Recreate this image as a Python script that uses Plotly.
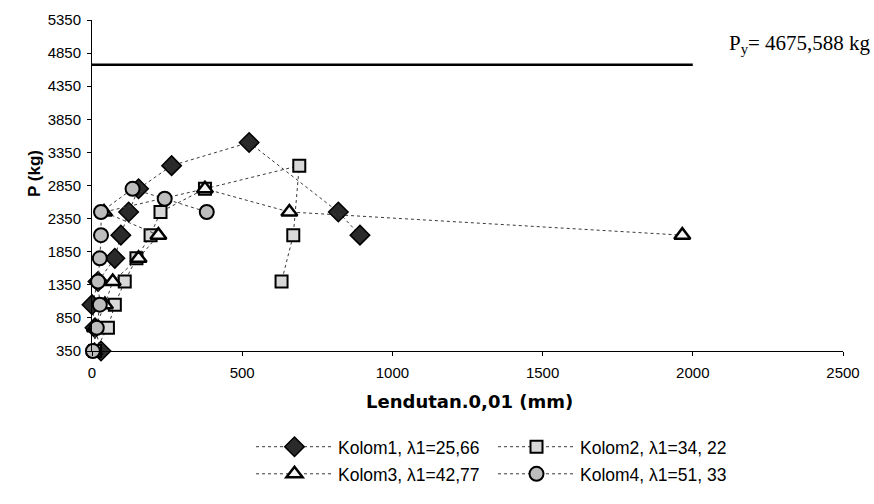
import plotly.graph_objects as go

# Load-deflection readings per column specimen (deflection in 0.01 mm, load in kg)
kolom1_x = [30, 10, 0, 20, 76, 96, 122, 155, 265, 523, 820, 892]
kolom1_y = [350, 700, 1050, 1400, 1750, 2100, 2450, 2800, 3150, 3500, 2450, 2100]

kolom2_x = [10, 53, 76, 109, 148, 195, 228, 376, 690, 670, 631]
kolom2_y = [350, 700, 1050, 1400, 1750, 2100, 2450, 2800, 3150, 2100, 1400]

kolom3_x = [8, 10, 43, 69, 155, 221, 40, 376, 657, 1965]
kolom3_y = [350, 700, 1050, 1400, 1750, 2100, 2450, 2800, 2450, 2100]

kolom4_x = [3, 16, 26, 20, 26, 30, 30, 135, 242, 382]
kolom4_y = [350, 700, 1050, 1400, 1750, 2100, 2450, 2800, 2650, 2450]

series_names = ["Kolom1, λ1=25,66", "Kolom2, λ1=34, 22",
                "Kolom3, λ1=42,77", "Kolom4, λ1=51, 33"]

# Yield load line
py_value = 4675.588
py_x = [0, 2000]
py_label = "P<sub>y</sub>= 4675,588 kg"

x_ticks = [0, 500, 1000, 1500, 2000, 2500]
y_ticks = [350, 850, 1350, 1850, 2350, 2850, 3350, 3850, 4350, 4850, 5350]

# plot area geometry in pixels
L, R, T, B = 92, 843, 20, 362
PW, PH = R - L, B - T


def px_x(p):
    return (p - L) / PW


def px_y(p):
    return (B - p) / PH


fig = go.Figure()

line_style = dict(color="#3a3a3a", width=1, dash="dot")

styles = [
    dict(symbol="diamond", size=15, color="#2a2a2a", line=dict(color="black", width=1.5)),
    dict(symbol="square", size=12, color="#d8d8d8", line=dict(color="black", width=2)),
    dict(symbol="triangle-up", size=14, color="#f4f4f4", line=dict(color="black", width=2.5)),
    dict(symbol="circle", size=14, color="#bdbdbd", line=dict(color="black", width=2)),
]

data = [(kolom1_x, kolom1_y), (kolom2_x, kolom2_y),
        (kolom3_x, kolom3_y), (kolom4_x, kolom4_y)]
legend_ids = ["legend", "legend2", "legend3", "legend4"]

for (xs, ys), name, mk, lg in zip(data, series_names, styles, legend_ids):
    fig.add_trace(go.Scatter(
        x=xs, y=ys, name=name, mode="lines+markers",
        line=line_style, marker=mk, cliponaxis=False, legend=lg,
    ))

fig.add_trace(go.Scatter(
    x=py_x, y=[py_value, py_value], mode="lines",
    line=dict(color="black", width=2.5), showlegend=False, hoverinfo="skip",
))

fig.add_annotation(
    x=2114, y=py_value, xref="x", yref="y", text=py_label,
    showarrow=False, xanchor="left", yanchor="middle", yshift=21,
    font=dict(family="Liberation Serif", size=21, color="black"),
)

fig.add_annotation(
    x=px_x(35), y=px_y(179), xref="paper", yref="paper", text="<b>P (kg)</b>",
    showarrow=False, textangle=-90, xanchor="center", yanchor="middle",
    font=dict(family="Liberation Sans", size=17, color="black"),
)

fig.add_annotation(
    x=px_x(469), y=px_y(414), xref="paper", yref="paper",
    text="<b>Lendutan.0,01 (mm)</b>",
    showarrow=False, xanchor="center", yanchor="middle",
    font=dict(family="DejaVu Sans", size=18, color="black"),
)

axis_common = dict(
    showgrid=False, zeroline=False, showline=True, linecolor="black", linewidth=1,
    ticks="outside", ticklen=4, tickcolor="black",
    tickfont=dict(family="Liberation Sans", size=15, color="black"),
)

fig.update_xaxes(range=[0, 2500], tickvals=x_ticks, ticklabelstandoff=4, **axis_common)
fig.update_yaxes(range=[350, 5350], tickvals=y_ticks, ticklabelstandoff=3, **axis_common)

legend_common = dict(
    orientation="h", xanchor="left", yanchor="middle",
    itemwidth=77, itemsizing="trace",
    font=dict(family="Liberation Sans", size=17.5, color="black"),
    bgcolor="rgba(0,0,0,0)", borderwidth=0,
)
col_x = [251, 493]
row_y = [461, 489]

fig.update_layout(
    width=874, height=504,
    margin=dict(l=L, r=874 - R, t=T, b=504 - B),
    paper_bgcolor="white", plot_bgcolor="white",
    legend=dict(x=px_x(col_x[0]), y=px_y(row_y[0]), **legend_common),
    legend2=dict(x=px_x(col_x[1]), y=px_y(row_y[0]), **legend_common),
    legend3=dict(x=px_x(col_x[0]), y=px_y(row_y[1]), **legend_common),
    legend4=dict(x=px_x(col_x[1]), y=px_y(row_y[1]), **legend_common),
)

fig.write_html("out.html")
